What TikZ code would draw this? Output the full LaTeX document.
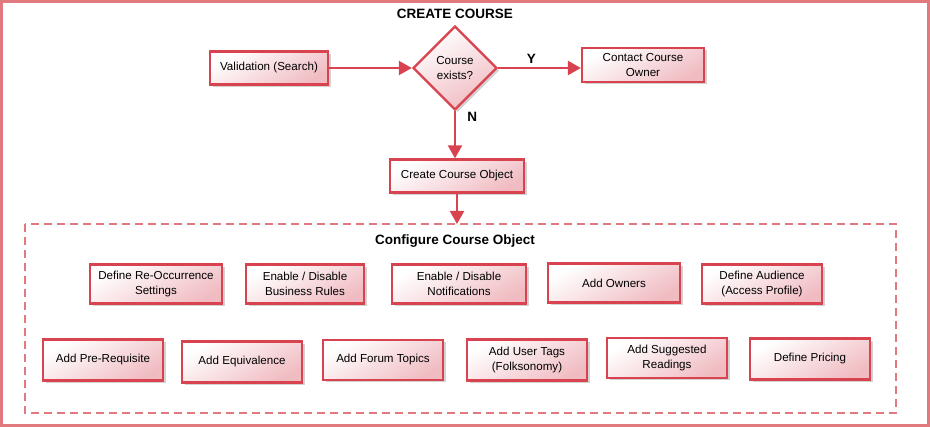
\documentclass[tikz,border=0pt]{standalone}
\usepackage{fontspec}
\setmainfont{Liberation Sans}
\usetikzlibrary{shapes.geometric,shadows,arrows.meta}

\definecolor{flowred}{HTML}{D9434F}
\definecolor{framered}{HTML}{E07A7E}
\definecolor{boxpink}{HTML}{F0BCC2}

\tikzset{
  stepbox/.style={draw=flowred, line width=2.2pt, align=center,
    minimum width=120pt, minimum height=39pt, inner sep=2pt,
    top color=white, bottom color=boxpink, shading angle=30,
    drop shadow={shadow xshift=2.5pt, shadow yshift=-2.5pt, fill=black!35},
    font=\fontsize{11.6}{15}\selectfont},
  decision/.style={diamond, aspect=1, draw=flowred, line width=2.4pt,
    minimum size=84pt, inner sep=0pt, align=center,
    top color=white, bottom color=boxpink, shading angle=30,
    drop shadow={shadow xshift=2.5pt, shadow yshift=-2.5pt, fill=black!35},
    font=\fontsize{11.6}{15}\selectfont},
  flow/.style={draw=flowred, line width=2.2pt, -{Triangle[length=13pt,width=14pt]}},
  heading/.style={font=\bfseries\fontsize{13.5}{15}\selectfont}
}

\begin{document}
\begin{tikzpicture}[x=1pt,y=-1pt]
  \useasboundingbox (0,0) rectangle (930,427);
  \draw[framered, line width=2.4pt] (1.5,1.5) rectangle (928.5,425.5);
  \node[heading] (title) at (455,14) {CREATE COURSE};

  % top row
  \node[stepbox, minimum width=118pt, minimum height=33pt] (search) at (269,68) {Validation (Search)};
  \node[decision] (exists) at (455,68) {Course\\exists?};
  \node[stepbox, minimum width=122pt, minimum height=34pt] (owner) at (643,65) {Contact Course\\Owner};
  \node[stepbox, minimum width=134pt, minimum height=33pt] (create) at (457,176) {Create Course Object};

  \draw[flow] (search) -- (exists);
  \draw[flow] (exists.east) -- node[above, heading, pos=0.4] {Y} (exists.east -| owner.west);
  \draw[flow] (exists.south) -- node[right, heading, pos=0.12, xshift=8pt] {N} (exists.south |- create.north);

  % configure block
  \draw[framered, line width=2.2pt, dash pattern=on 8pt off 5pt] (25,224) rectangle (896,413);
  \coordinate (cfgtop) at (create.south |- 0,224);
  \node[heading] (cfg) at (455,241) {Configure Course Object};
  \draw[flow] (create) -- (cfgtop);

  \node[stepbox, minimum width=132pt] (reocc) at (156,284) {Define Re-Occurrence\\Settings};
  \node[stepbox, minimum width=118pt] (rules) at (305,284) {Enable / Disable\\Business Rules};
  \node[stepbox, minimum width=134pt] (notif) at (459,284) {Enable / Disable\\Notifications};
  \node[stepbox, minimum width=132pt] (owners) at (614,283) {Add Owners};
  \node[stepbox, minimum width=120pt] (audience) at (762,284) {Define Audience\\(Access Profile)};

  \node[stepbox, minimum height=41pt] (prereq) at (103,360) {Add Pre-Requisite};
  \node[stepbox, minimum height=41pt] (equiv) at (242,362) {Add Equivalence};
  \node[stepbox, minimum height=40pt] (forum) at (383,360) {Add Forum Topics};
  \node[stepbox, minimum height=41pt] (tags) at (527,360) {Add User Tags\\(Folksonomy)};
  \node[stepbox, minimum height=40pt] (readings) at (667,358) {Add Suggested\\Readings};
  \node[stepbox, minimum height=41pt] (pricing) at (810,359) {Define Pricing};
\end{tikzpicture}
\end{document}
